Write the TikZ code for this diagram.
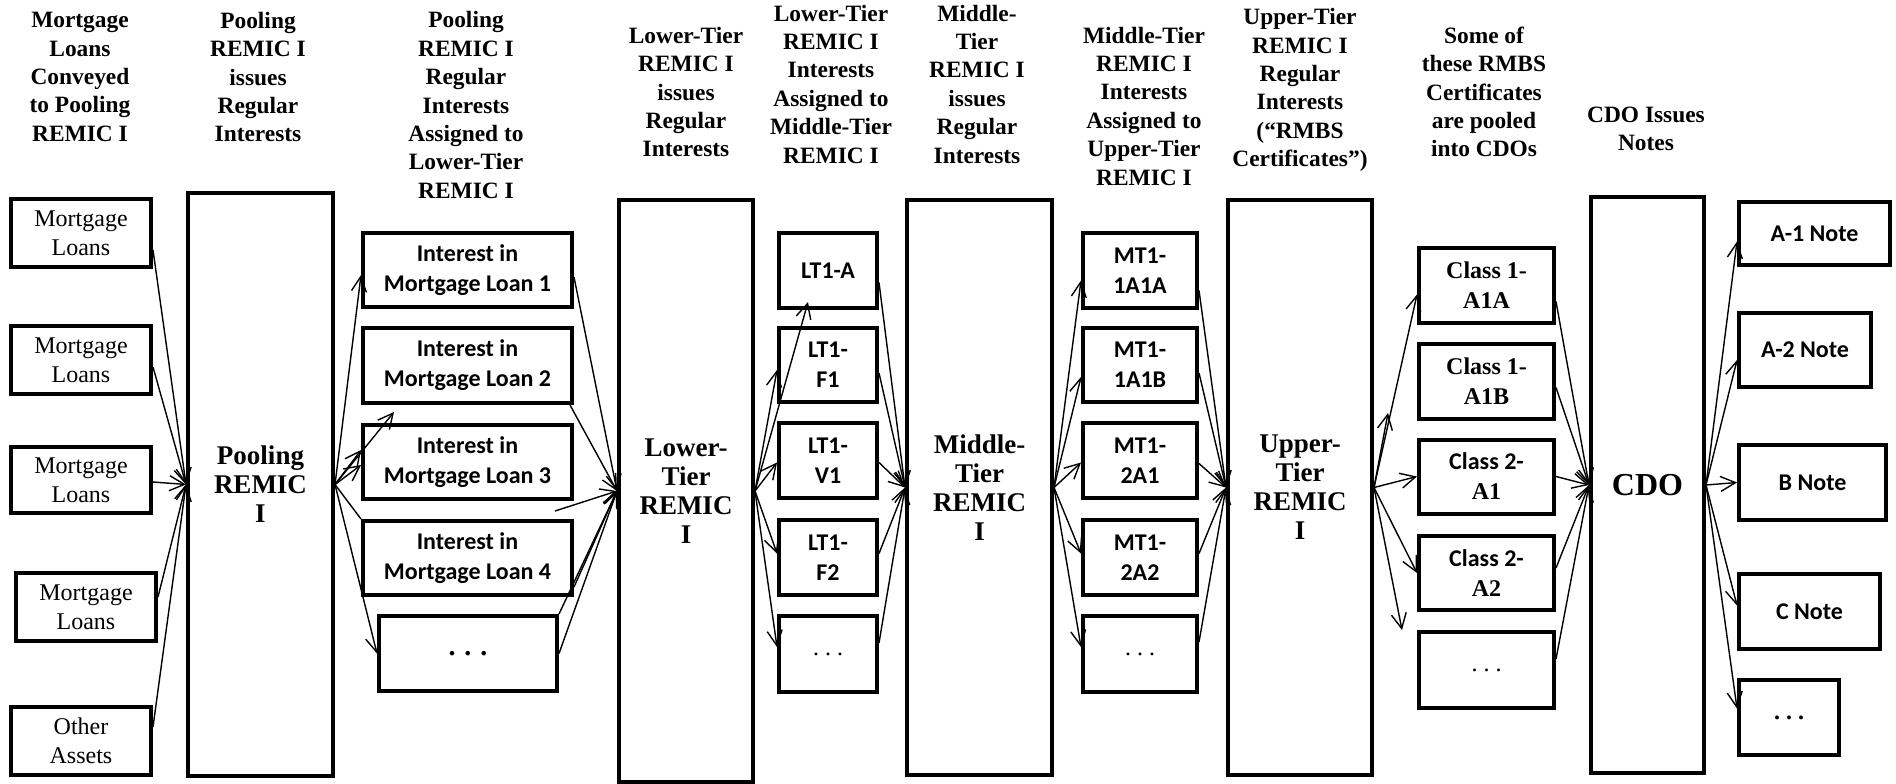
\documentclass[tikz,border=0pt]{standalone}
\usepackage{fontspec}
\setmainfont{Liberation Serif}
\newfontfamily\calfont{Carlito}
\usetikzlibrary{arrows.meta,calc}
\begin{document}
\begin{tikzpicture}[x=0.5pt,y=-0.5pt,
  box/.style={draw, line width=2pt, inner sep=0pt, align=center, font=\fontsize{12}{14.5}\selectfont},
  calbox/.style={box, font=\calfont\bfseries\fontsize{12}{15}\selectfont},
  clsbox/.style={box, font=\bfseries\fontsize{12}{15}\selectfont},
  big/.style={draw, line width=2pt, inner sep=0pt, align=center, font=\bfseries\fontsize{13.5}{14.5}\selectfont},
  hdr/.style={align=center, inner sep=0pt, font=\bfseries\fontsize{11.7}{14.2}\selectfont},
  conn/.style={-{Straight Barb[length=7.5pt,width=7.5pt]}, line width=0.7pt},
  plain/.style={line width=0.7pt}]
\useasboundingbox (0,0) rectangle (1896,783);

% headers
\node[hdr] (h1) at (80,77) {Mortgage\\Loans\\Conveyed\\to Pooling\\REMIC I};
\node[hdr] (h2) at (258,77) {Pooling\\REMIC I\\issues\\Regular\\Interests};
\node[hdr] (h3) at (466,105) {Pooling\\REMIC I\\Regular\\Interests\\Assigned to\\Lower-Tier\\REMIC I};
\node[hdr] (h4) at (686,92) {Lower-Tier\\REMIC I\\issues\\Regular\\Interests};
\node[hdr] (h5) at (831,84) {Lower-Tier\\REMIC I\\Interests\\Assigned to\\Middle-Tier\\REMIC I};
\node[hdr] (h6) at (977,84) {Middle-\\Tier\\REMIC I\\issues\\Regular\\Interests};
\node[hdr] (h7) at (1144,106) {Middle-Tier\\REMIC I\\Interests\\Assigned to\\Upper-Tier\\REMIC I};
\node[hdr] (h8) at (1300,90) {Upper-Tier\\REMIC I\\Regular\\Interests\\(“RMBS\\Certificates”)};
\node[hdr] (h9) at (1484,92) {Some of\\these RMBS\\Certificates\\are pooled\\into CDOs};
\node[hdr] (h10) at (1646,129) {CDO Issues\\Notes};

% column 1
\node[box, minimum width=70pt, minimum height=34pt] (ml1) at (81,233) {Mortgage\\Loans};
\node[box, minimum width=70pt, minimum height=34pt] (ml2) at (81,360) {Mortgage\\Loans};
\node[box, minimum width=70pt, minimum height=33pt] (ml3) at (81,480) {Mortgage\\Loans};
\node[box, minimum width=70pt, minimum height=34pt] (ml4) at (86,607) {Mortgage\\Loans};
\node[box, minimum width=70pt, minimum height=34pt] (oa) at (81,741) {Other\\Assets};

% big boxes
\node[big, minimum width=72.5pt, minimum height=291.5pt] (pool) at (260.5,484.5) {Pooling\\REMIC\\I};
\node[big, minimum width=67pt, minimum height=291pt] (lt) at (686,491) {Lower-\\Tier\\REMIC\\I};
\node[big, minimum width=72.5pt, minimum height=287.5pt] (mt) at (979.5,487.5) {Middle-\\Tier\\REMIC\\I};
\node[big, minimum width=72pt, minimum height=287.5pt] (ut) at (1300,487.5) {Upper-\\Tier\\REMIC\\I};
\node[big, minimum width=56.5pt, minimum height=288pt, font=\bfseries\fontsize{16}{18}\selectfont] (cdo) at (1647.5,485) {CDO};

% interests
\node[calbox, minimum width=104.5pt, minimum height=37pt] (int1) at (467.5,270) {Interest in\\Mortgage Loan 1};
\node[calbox, minimum width=104.5pt, minimum height=37.5pt] (int2) at (467.5,365.5) {Interest in\\Mortgage Loan 2};
\node[calbox, minimum width=104.5pt, minimum height=37pt] (int3) at (467.5,462) {Interest in\\Mortgage Loan 3};
\node[calbox, minimum width=104.5pt, minimum height=37pt] (int4) at (467.5,558) {Interest in\\Mortgage Loan 4};
\node[calbox, minimum width=89pt, minimum height=37.5pt, font=\bfseries\fontsize{14}{15}\selectfont] (intd) at (468,653.5) {.\hspace{4.5pt}.\hspace{4.5pt}.};

% LT1
\node[calbox, minimum width=49pt, minimum height=37.5pt] (lta) at (828,270.5) {LT1-A};
\node[calbox, minimum width=49pt, minimum height=37pt] (ltf1) at (828,365) {LT1-\\F1};
\node[calbox, minimum width=49pt, minimum height=37.5pt] (ltv1) at (828,460.5) {LT1-\\V1};
\node[calbox, minimum width=49pt, minimum height=37.5pt] (ltf2) at (828,557.5) {LT1-\\F2};
\node[box, minimum width=49pt, minimum height=38pt] (ltd) at (828,654) {.\hspace{3pt}.\hspace{3pt}.};

% MT1
\node[calbox, minimum width=57pt, minimum height=37.5pt] (m1) at (1140,270.5) {MT1-\\1A1A};
\node[calbox, minimum width=57pt, minimum height=37pt] (m2) at (1140,365) {MT1-\\1A1B};
\node[calbox, minimum width=57pt, minimum height=37.5pt] (m3) at (1140,460.5) {MT1-\\2A1};
\node[calbox, minimum width=57pt, minimum height=37.5pt] (m4) at (1140,557.5) {MT1-\\2A2};
\node[box, minimum width=57pt, minimum height=38pt] (md) at (1140,654) {.\hspace{3pt}.\hspace{3pt}.};

% classes
\node[clsbox, minimum width=67.5pt, minimum height=37.5pt] (c1) at (1486.5,285.5) {Class 1-\\A1A};
\node[clsbox, minimum width=67.5pt, minimum height=37.5pt] (c2) at (1486.5,381.5) {Class 1-\\A1B};
\node[clsbox, minimum width=67.5pt, minimum height=37pt] (c3) at (1486.5,476.5) {{\calfont Class 2-}\\A1};
\node[clsbox, minimum width=67.5pt, minimum height=37pt] (c4) at (1486.5,573) {{\calfont Class 2-}\\A2};
\node[box, minimum width=67.5pt, minimum height=38pt] (cd) at (1486.5,670) {.\hspace{3pt}.\hspace{3pt}.};

% notes
\node[calbox, minimum width=75.5pt, minimum height=31.5pt] (na1) at (1814.5,233.5) {A-1 Note};
\node[calbox, minimum width=66pt, minimum height=37pt] (na2) at (1805,350) {A-2 Note};
\node[calbox, minimum width=73.5pt, minimum height=37.5pt] (nb) at (1812.5,482.5) {B Note};
\node[calbox, minimum width=70.5pt, minimum height=37.5pt] (nc) at (1809.5,611.5) {C Note};
\node[box, minimum width=50pt, minimum height=37.5pt, font=\bfseries\fontsize{12}{14}\selectfont] (nd) at (1789,717.5) {.\hspace{3pt}.\hspace{3pt}.};

% ML -> pool
\draw[conn] ($(ml1.east)+(0,17)$) -- (pool.west);
\draw[conn] ($(ml2.east)+(0,7)$) -- (pool.west);
\draw[conn] ($(ml3.east)+(0,2)$) -- (pool.west);
\draw[conn] ($(ml4.east)+(0,-10)$) -- (pool.west);
\draw[conn] ($(oa.east)+(0,-14)$) -- (pool.west);

% pool -> interests
\coordinate (f2) at (394,412);
\draw[conn] (pool.east) -- ($(int1.west)+(0,5)$);
\draw[conn] (pool.east) -- (f2);
\draw[conn] (pool.east) -- ($(int3.west)+(0,-12)$);
\draw[conn] (pool.east) -- ($(int3.west)+(0,3)$);
\draw[plain] (pool.east) -- (int4.north west);
\draw[conn] (pool.east) -- (intd.west);

% interests -> LT
\coordinate (g3) at (555,511);
\draw[conn] ($(int1.east)+(0,7)$) -- (lt.west);
\draw[conn] ($(int2.south east)+(-4,0)$) -- (lt.west);
\draw[conn] (g3) -- (lt.west);
\draw[conn] ($(int4.east)+(0,29)$) -- (lt.west);
\draw[conn] (intd.north east) -- (lt.west);
\draw[conn] (intd.east) -- (lt.west);

% LT -> LT1
\draw[conn] (lt.east) -- ($(lta.south west)+(31,-8)$);
\draw[conn] (lt.east) -- ($(ltf1.west)+(0,5)$);
\draw[conn] (lt.east) -- ($(ltv1.west)+(0,2)$);
\draw[conn] (lt.east) -- ($(ltf2.west)+(0,-4)$);
\draw[conn] (lt.east) -- ($(ltd.west)+(0,-7)$);

% LT1 -> MT
\draw[conn] ($(lta.east)+(0,12)$) -- (mt.west);
\draw[conn] ($(ltf1.east)+(0,8)$) -- (mt.west);
\draw[conn] ($(ltv1.east)+(0,2)$) -- (mt.west);
\draw[conn] ($(ltf2.east)+(0,-4)$) -- (mt.west);
\draw[conn] ($(ltd.east)+(0,-11)$) -- (mt.west);

% MT -> MT1
\draw[conn] (mt.east) -- ($(m1.west)+(0,10)$);
\draw[conn] (mt.east) -- ($(m2.west)+(0,12)$);
\draw[conn] (mt.east) -- ($(m3.west)+(0,2)$);
\draw[conn] (mt.east) -- ($(m4.west)+(0,-4)$);
\draw[conn] (mt.east) -- ($(md.west)+(0,-7)$);

% MT1 -> UT
\draw[conn] ($(m1.east)+(0,20)$) -- (ut.west);
\draw[conn] ($(m2.east)+(0,8)$) -- (ut.west);
\draw[conn] ($(m3.east)+(0,3)$) -- (ut.west);
\draw[conn] ($(m4.east)+(0,-4)$) -- (ut.west);
\draw[conn] ($(md.east)+(0,-12)$) -- (ut.west);

% UT -> classes
\coordinate (u2) at (1388,413);
\coordinate (u5) at (1402,630);
\draw[conn] (ut.east) -- ($(c1.west)+(0,9)$);
\draw[conn] (ut.east) -- (u2);
\draw[conn] (ut.east) -- (c3.west);
\draw[conn] (ut.east) -- (c4.west);
\draw[conn] (ut.east) -- (u5);

% classes -> CDO
\draw[conn] ($(c1.east)+(0,16)$) -- (cdo.west);
\draw[conn] ($(c2.east)+(0,6)$) -- (cdo.west);
\draw[conn] (c3.east) -- (cdo.west);
\draw[conn] ($(c4.east)+(0,-5)$) -- (cdo.west);
\draw[conn] ($(cd.east)+(0,-11)$) -- (cdo.west);

% CDO -> notes
\draw[conn] (cdo.east) -- ($(na1.west)+(0,8)$);
\draw[conn] (cdo.east) -- ($(na2.west)+(0,10)$);
\draw[conn] (cdo.east) -- (nb.west);
\draw[conn] (cdo.east) -- ($(nc.west)+(0,-6)$);
\draw[conn] (cdo.east) -- ($(nd.west)+(0,-9)$);
\end{tikzpicture}
\end{document}
